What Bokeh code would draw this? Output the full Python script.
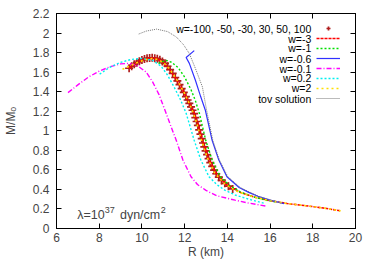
import math
from bokeh.plotting import figure
from bokeh.models import (Range1d, FixedTicker, CustomJSTickFormatter, LinearAxis,
                          Legend, LegendItem, Label)
from bokeh.core.properties import value
from bokeh.embed import file_html
from bokeh.resources import INLINE

# ---------------- data ----------------
x_ticks = [6, 8, 10, 12, 14, 16, 18, 20]
y_ticks = [0, 0.2, 0.4, 0.6, 0.8, 1, 1.2, 1.4, 1.6, 1.8, 2, 2.2]

# w = -100, -50, -30, 30, 50, 100 (crosses, overlapping thick band)
plus_R = [9.40, 9.52, 9.64, 9.76, 9.88, 10.00, 10.12, 10.24, 10.36, 10.48, 10.60,
          10.72, 10.84, 10.96, 11.08, 11.20, 11.32, 11.44, 11.56, 11.66, 11.76, 11.86,
          11.96, 12.06, 12.14, 12.22, 12.30, 12.37, 12.44, 12.50, 12.56, 12.62, 12.68,
          12.74, 12.80, 12.86, 12.92, 12.98, 13.05, 13.12, 13.20, 13.29, 13.38, 13.48,
          13.60, 13.73, 13.88, 14.05, 14.25]
plus_M = [1.640, 1.660, 1.680, 1.697, 1.712, 1.725, 1.734, 1.741, 1.745, 1.746, 1.743,
          1.737, 1.726, 1.710, 1.690, 1.660, 1.625, 1.588, 1.545, 1.510, 1.472, 1.432,
          1.392, 1.350, 1.315, 1.280, 1.245, 1.210, 1.175, 1.135, 1.095, 1.055, 1.010,
          0.965, 0.920, 0.875, 0.835, 0.795, 0.755, 0.715, 0.675, 0.635, 0.597, 0.560,
          0.525, 0.492, 0.462, 0.433, 0.405]

# w = -3
red_R = [9.40, 9.70, 10.00, 10.40, 10.70, 11.00, 11.30, 11.60, 11.90, 12.20, 12.45,
         12.65, 12.85, 13.15, 13.50, 14.00, 14.60, 15.30, 16.00, 16.80, 17.60, 18.50, 19.30]
red_M = [1.64, 1.69, 1.725, 1.745, 1.74, 1.70, 1.625, 1.53, 1.42, 1.29, 1.18,
         1.05, 0.89, 0.70, 0.55, 0.44, 0.37, 0.32, 0.285, 0.255, 0.235, 0.21, 0.18]

# w = -1
grn_R = [10.77, 11.00, 11.15, 11.40, 11.70, 12.00, 12.30, 12.50, 12.70, 12.99, 13.29,
         13.67, 14.10, 14.60, 15.20, 15.80, 16.30]
grn_M = [1.69, 1.71, 1.72, 1.70, 1.645, 1.55, 1.42, 1.31, 1.17, 0.90, 0.70,
         0.53, 0.44, 0.375, 0.325, 0.29, 0.27]

# w = -0.6
blu_R = [12.45, 12.07, 12.22, 12.50, 12.75, 12.97, 13.29, 13.60, 13.98, 14.55, 15.00,
         15.43, 16.00, 16.66]
blu_M = [1.82, 1.75, 1.69, 1.52, 1.35, 1.21, 0.90, 0.70, 0.53, 0.42, 0.37,
         0.33, 0.29, 0.255]

# w = -0.1
mag_R = [6.54, 7.00, 7.50, 8.00, 8.50, 9.00, 9.40, 9.80, 10.20, 10.50, 10.80, 11.08,
         11.35, 11.61, 11.92, 12.30, 12.60, 13.00, 13.50, 14.36, 15.00, 15.80]
mag_M = [1.39, 1.47, 1.55, 1.61, 1.655, 1.685, 1.69, 1.665, 1.60, 1.50, 1.37, 1.21,
         1.05, 0.90, 0.70, 0.53, 0.45, 0.39, 0.335, 0.29, 0.26, 0.23]

# w = 0.2
cyn_R = [8.02, 8.50, 9.00, 9.50, 10.00, 10.50, 10.90, 11.20, 11.50, 11.80, 12.07,
         12.45, 12.76, 13.14, 13.50, 13.90, 14.40, 15.00, 15.70]
cyn_M = [1.58, 1.65, 1.70, 1.73, 1.74, 1.72, 1.66, 1.57, 1.45, 1.32, 1.18,
         0.90, 0.70, 0.53, 0.45, 0.39, 0.34, 0.30, 0.26]

# w = 2
yel_R = [9.09, 9.40, 9.80, 10.20, 10.50, 10.80, 11.10, 11.40, 11.70, 12.00, 12.30,
         12.55, 12.75, 13.05, 13.40, 13.90, 14.50, 15.20, 16.00, 16.80, 17.60, 18.50, 19.30]
yel_M = [1.63, 1.66, 1.70, 1.73, 1.74, 1.725, 1.68, 1.60, 1.50, 1.38, 1.24,
         1.09, 0.93, 0.73, 0.57, 0.45, 0.375, 0.325, 0.285, 0.255, 0.235, 0.21, 0.18]

# tov solution
tov_R = [9.85, 10.20, 10.69, 11.20, 11.61, 11.95, 12.22, 12.50, 12.83, 13.02, 13.32,
         13.63, 14.02, 14.60, 15.45, 16.50]
tov_M = [1.99, 2.02, 2.04, 2.015, 1.96, 1.88, 1.79, 1.64, 1.45, 1.22, 0.90,
         0.70, 0.53, 0.42, 0.33, 0.26]

legend_labels = ["w=-100, -50, -30, 30, 50, 100", "w=-3", "w=-1", "w=-0.6",
                 "w=-0.1", "w=0.2", "w=2", "tov solution"]

FONT = "Liberation Sans"

# ---------------- figure ----------------
p = figure(width=374, height=262, x_range=Range1d(6, 20), y_range=Range1d(0, 2.2),
           output_backend="svg", toolbar_location=None,
           min_border_left=51, min_border_right=19, min_border_top=13, min_border_bottom=34)
p.grid.visible = False
p.outline_line_color = "black"
p.background_fill_color = "white"
p.border_fill_color = "white"

fmt = CustomJSTickFormatter(code="return (Math.round(tick*10)/10).toString();")

def style_axis(ax, show_labels=True):
    ax.axis_line_color = "black"
    ax.major_tick_line_color = "black"
    ax.major_tick_in = 5
    ax.major_tick_out = 0
    ax.minor_tick_in = 0
    ax.minor_tick_out = 0
    ax.minor_tick_line_color = None
    ax.major_label_text_font = FONT
    if show_labels:
        ax.major_label_text_font_size = "12px"
        ax.major_label_standoff = 4
    else:
        ax.major_label_text_font_size = "1px"
        ax.major_label_text_color = None
        ax.major_label_standoff = 0

p.xaxis.ticker = FixedTicker(ticks=x_ticks)
p.yaxis.ticker = FixedTicker(ticks=y_ticks)
p.yaxis.formatter = fmt
style_axis(p.xaxis[0])
style_axis(p.yaxis[0])
p.yaxis[0].major_label_standoff = 7

p.xaxis.axis_label = "R (km)"
p.yaxis.axis_label = "M/Mₒ"
for ax in (p.xaxis[0], p.yaxis[0]):
    ax.axis_label_text_font = FONT
    ax.axis_label_text_font_size = "12px"
    ax.axis_label_text_font_style = "normal"
p.xaxis[0].axis_label_standoff = 0
p.yaxis[0].axis_label_standoff = 12

top_ax = LinearAxis(ticker=FixedTicker(ticks=x_ticks))
style_axis(top_ax, show_labels=False)
p.add_layout(top_ax, "above")
right_ax = LinearAxis(ticker=FixedTicker(ticks=y_ticks))
style_axis(right_ax, show_labels=False)
p.add_layout(right_ax, "right")

# ---------------- series ----------------
r_plus = p.scatter(plus_R, plus_M, marker="cross", size=8, line_width=1.7, color="#b01e1e")
r_red = p.line(red_R, red_M, line_color="#ff0000", line_width=1.6, line_dash="3 1")
r_grn = p.line(grn_R, grn_M, line_color="#00e000", line_width=1.4, line_dash="2 2")
r_blu = p.line(blu_R, blu_M, line_color="#3030ff", line_width=1.2)
r_mag = p.line(mag_R, mag_M, line_color="#ff00ff", line_width=1.4, line_dash="5 2 1 2")
r_cyn = p.line(cyn_R, cyn_M, line_color="#00f0f0", line_width=1.4, line_dash="2 2")
r_yel = p.line(yel_R, yel_M, line_color="#ffe000", line_width=1.6, line_dash="2 3")
r_tov = p.line(tov_R, tov_M, line_color="#777777", line_width=1.0, line_dash="1 1")

renderers = [r_plus, r_red, r_grn, r_blu, r_mag, r_cyn, r_yel, r_tov]

# ---------------- legend (gnuplot style: text at left, sample at right) ----------------
legend = Legend(items=[LegendItem(label=value(" "), renderers=[r]) for r in renderers],
                location="top_right", glyph_width=24, glyph_height=10,
                label_width=5, label_height=10, label_standoff=0,
                label_text_font_size="1px", label_text_color=None,
                spacing=0, padding=0, margin=10,
                border_line_color=None, background_fill_alpha=0)
p.add_layout(legend)

# legend texts, right-aligned next to the samples (positions in data units)
legend_text_x = 17.93
legend_text_y = [2.046, 1.944, 1.842, 1.739, 1.637, 1.535, 1.433, 1.330]
for txt, ly in zip(legend_labels, legend_text_y):
    p.add_layout(Label(x=legend_text_x, y=ly, text=txt, text_align="right",
                       text_baseline="middle", text_font=FONT, text_font_size="10.5px",
                       text_color="black"))

# ---------------- annotation ----------------
p.add_layout(Label(x=6.97, y=0.138, text="λ=10", text_baseline="alphabetic",
                   text_font=FONT, text_font_size="12.5px"))
p.add_layout(Label(x=8.26, y=0.189, text="37", text_baseline="alphabetic",
                   text_font=FONT, text_font_size="9px"))
p.add_layout(Label(x=8.97, y=0.138, text="dyn/cm", text_baseline="alphabetic",
                   text_font=FONT, text_font_size="12.5px"))
p.add_layout(Label(x=10.88, y=0.189, text="2", text_baseline="alphabetic",
                   text_font=FONT, text_font_size="9px"))

open("out.html", "w").write(file_html(p, INLINE))
